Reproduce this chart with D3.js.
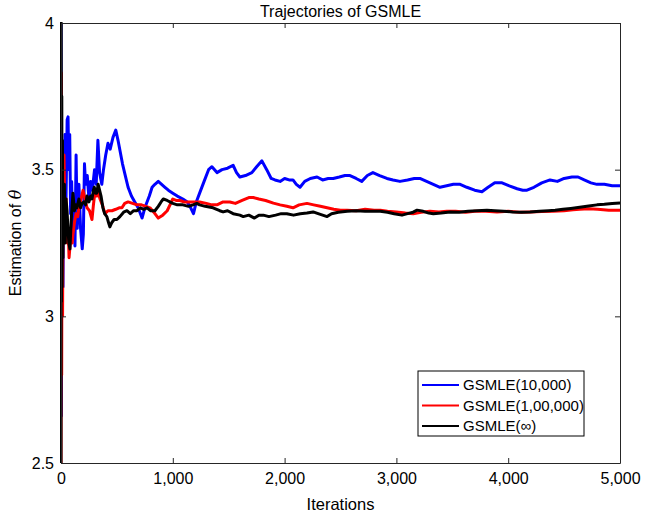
<!DOCTYPE html>
<html>
<head>
<meta charset="utf-8">
<script src="https://cdn.jsdelivr.net/npm/d3@7"></script>
<style>
  html, body { margin: 0; padding: 0; background: #fff; }
  svg { display: block; font-family: "Liberation Sans", Arial, sans-serif; }
</style>
</head>
<body>
<svg id="chart" width="656" height="517"></svg>
<script>
// ---------- data ----------
const title = "Trajectories of GSMLE";
const xLabel = "Iterations";
const seriesNames = ["GSMLE(10,000)", "GSMLE(1,00,000)", "GSMLE(\u221E)"];
const seriesColors = ["#0000ff", "#ff0000", "#000000"];
const xTicks = [0, 1000, 2000, 3000, 4000, 5000];
const yTicks = [2.5, 3, 3.5, 4];

const gsmle10k = [[0,4.0],[3,2.66],[6,3.6],[9,3.05],[13,3.45],[18,3.1],[24,3.55],[30,3.3],[36,3.62],[45,3.4],[55,3.67],[63,3.68],[70,3.5],[78,3.62],[86,3.35],[95,3.46],[105,3.3],[115,3.35],[125,3.24],[135,3.55],[145,3.3],[160,3.45],[175,3.3],[190,3.23],[200,3.28],[210,3.52],[220,3.45],[235,3.48],[250,3.40],[265,3.46],[280,3.43],[300,3.5],[315,3.45],[330,3.60],[345,3.49],[365,3.45],[380,3.50],[400,3.55],[420,3.59],[440,3.57],[465,3.61],[490,3.635],[510,3.6],[530,3.56],[550,3.52],[575,3.48],[600,3.44],[630,3.41],[660,3.39],[690,3.37],[725,3.335],[750,3.37],[790,3.41],[815,3.44],[840,3.45],[870,3.46],[900,3.45],[930,3.44],[960,3.43],[1000,3.42],[1040,3.41],[1090,3.40],[1130,3.39],[1160,3.37],[1185,3.35],[1210,3.39],[1240,3.42],[1280,3.46],[1320,3.50],[1350,3.51],[1395,3.49],[1440,3.50],[1490,3.505],[1540,3.515],[1570,3.49],[1600,3.475],[1650,3.48],[1707,3.49],[1750,3.51],[1797,3.53],[1840,3.50],[1880,3.47],[1914,3.465],[1960,3.46],[2000,3.47],[2040,3.465],[2075,3.465],[2105,3.45],[2138,3.44],[2180,3.46],[2230,3.47],[2290,3.475],[2340,3.465],[2390,3.47],[2435,3.47],[2490,3.475],[2540,3.48],[2585,3.48],[2640,3.47],[2690,3.46],[2740,3.48],[2790,3.49],[2850,3.48],[2915,3.47],[2970,3.465],[3032,3.46],[3100,3.465],[3160,3.47],[3210,3.47],[3270,3.46],[3330,3.45],[3390,3.44],[3450,3.445],[3510,3.45],[3570,3.45],[3630,3.44],[3700,3.43],[3765,3.425],[3820,3.44],[3880,3.455],[3945,3.455],[4010,3.445],[4080,3.435],[4130,3.43],[4168,3.43],[4230,3.44],[4300,3.455],[4374,3.465],[4440,3.46],[4500,3.47],[4570,3.475],[4625,3.475],[4680,3.465],[4740,3.455],[4794,3.45],[4860,3.45],[4930,3.445],[5000,3.445]];

const gsmle100k = [[0,2.5],[3,3.83],[6,2.8],[10,3.55],[14,3.0],[20,3.5],[27,3.55],[35,3.3],[45,3.4],[55,3.25],[65,3.3],[72,3.20],[85,3.26],[100,3.25],[107,3.28],[120,3.32],[135,3.35],[150,3.34],[160,3.37],[180,3.40],[197,3.43],[215,3.40],[233,3.37],[255,3.36],[277,3.33],[290,3.38],[304,3.425],[320,3.41],[335,3.42],[349,3.40],[370,3.38],[393,3.35],[420,3.36],[456,3.36],[490,3.365],[520,3.37],[545,3.37],[570,3.385],[600,3.39],[640,3.385],[680,3.38],[720,3.38],[760,3.375],[796,3.37],[830,3.355],[870,3.335],[910,3.345],[950,3.36],[975,3.38],[1000,3.40],[1030,3.395],[1064,3.395],[1100,3.39],[1150,3.39],[1180,3.39],[1240,3.39],[1300,3.385],[1350,3.38],[1395,3.38],[1450,3.39],[1510,3.39],[1560,3.385],[1620,3.395],[1680,3.405],[1720,3.405],[1770,3.40],[1830,3.395],[1900,3.386],[1960,3.38],[2020,3.375],[2075,3.37],[2130,3.38],[2200,3.385],[2260,3.38],[2320,3.375],[2380,3.37],[2440,3.365],[2500,3.362],[2560,3.362],[2640,3.36],[2720,3.365],[2800,3.362],[2855,3.362],[2920,3.358],[3000,3.356],[3080,3.352],[3150,3.35],[3220,3.355],[3300,3.358],[3380,3.356],[3450,3.358],[3530,3.358],[3620,3.355],[3700,3.358],[3800,3.358],[3900,3.356],[4000,3.358],[4100,3.355],[4200,3.356],[4300,3.357],[4400,3.358],[4500,3.36],[4580,3.363],[4640,3.365],[4720,3.367],[4800,3.365],[4900,3.362],[5000,3.362]];

const gsmleInf = [[0,2.5],[2,4.0],[4,3.05],[7,3.75],[10,3.1],[13,3.6],[17,3.2],[20,3.43],[25,3.3],[30,3.45],[38,3.25],[45,3.4],[54,3.36],[62,3.3],[70,3.25],[80,3.23],[88,3.30],[95,3.35],[107,3.42],[120,3.36],[133,3.38],[143,3.37],[160,3.40],[175,3.37],[188,3.385],[205,3.39],[220,3.38],[233,3.41],[250,3.39],[265,3.41],[277,3.40],[290,3.43],[298,3.44],[310,3.42],[320,3.42],[332,3.45],[345,3.43],[358,3.41],[375,3.37],[390,3.35],[410,3.34],[425,3.32],[437,3.305],[455,3.32],[475,3.33],[500,3.33],[527,3.34],[560,3.355],[590,3.36],[620,3.35],[650,3.36],[680,3.36],[710,3.37],[740,3.365],[770,3.37],[800,3.36],[840,3.36],[870,3.375],[895,3.39],[915,3.40],[950,3.395],[1000,3.385],[1040,3.38],[1090,3.38],[1140,3.375],[1180,3.38],[1215,3.385],[1240,3.38],[1290,3.375],[1360,3.37],[1420,3.36],[1450,3.356],[1490,3.36],[1540,3.35],[1600,3.345],[1630,3.34],[1680,3.345],[1730,3.335],[1770,3.345],[1810,3.345],[1860,3.34],[1920,3.345],[1970,3.35],[2020,3.35],[2080,3.345],[2140,3.35],[2200,3.352],[2255,3.356],[2300,3.35],[2340,3.345],[2380,3.34],[2420,3.35],[2480,3.355],[2560,3.358],[2640,3.36],[2720,3.358],[2800,3.358],[2855,3.358],[2920,3.355],[2980,3.35],[3050,3.345],[3100,3.35],[3150,3.355],[3185,3.362],[3240,3.358],[3290,3.352],[3330,3.35],[3400,3.352],[3480,3.356],[3560,3.355],[3640,3.358],[3720,3.36],[3810,3.362],[3880,3.36],[3960,3.358],[4040,3.356],[4120,3.355],[4195,3.356],[4280,3.358],[4360,3.36],[4420,3.362],[4490,3.365],[4560,3.368],[4640,3.372],[4720,3.376],[4794,3.38],[4860,3.382],[4930,3.385],[5000,3.386]];

const allSeries = [gsmle10k, gsmle100k, gsmleInf];

// ---------- layout ----------
const margin = { left: 61, right: 36, top: 23, bottom: 54 };
const W = 656, H = 517;
const pw = W - margin.left - margin.right;
const ph = H - margin.top - margin.bottom;
const axisColor = "#262626";

const svg = d3.select("#chart");
const x = d3.scaleLinear().domain([0, 5000]).range([0, pw]);
const y = d3.scaleLinear().domain([2.5, 4]).range([ph, 0]);

const g = svg.append("g").attr("transform", `translate(${margin.left},${margin.top})`);

g.append("defs").append("clipPath").attr("id", "clip")
  .append("rect").attr("x", -1).attr("y", -1).attr("width", pw + 2).attr("height", ph + 2);

// lines
const line = d3.line().x(d => x(d[0])).y(d => y(d[1]));
const lines = g.append("g").attr("clip-path", "url(#clip)");
allSeries.forEach((s, i) => {
  lines.append("path").datum(s)
    .attr("fill", "none")
    .attr("stroke", seriesColors[i])
    .attr("stroke-width", 3)
    .attr("stroke-linejoin", "round")
    .attr("d", line);
});

// axes
const fmt = d3.format(",");
const axBottom = g.append("g").attr("transform", `translate(0,${ph})`)
  .call(d3.axisBottom(x).tickValues(xTicks).tickFormat(fmt).tickSizeInner(-5).tickSizeOuter(0).tickPadding(10));
const axTop = g.append("g")
  .call(d3.axisTop(x).tickValues(xTicks).tickFormat("").tickSizeInner(-5).tickSizeOuter(0));
const axLeft = g.append("g")
  .call(d3.axisLeft(y).tickValues(yTicks).tickFormat(d3.format("")).tickSizeInner(-5).tickSizeOuter(0).tickPadding(7));
const axRight = g.append("g").attr("transform", `translate(${pw},0)`)
  .call(d3.axisRight(y).tickValues(yTicks).tickFormat("").tickSizeInner(-5).tickSizeOuter(0));

[axBottom, axTop, axLeft, axRight].forEach(a => {
  a.select(".domain").attr("stroke", axisColor).attr("stroke-width", 1);
  a.selectAll(".tick line").attr("stroke", axisColor);
  a.selectAll("text").attr("fill", "#000").style("font-size", "16px")
    .style("font-family", "'Liberation Sans', Arial, sans-serif");
});

// title & labels
svg.append("text").attr("x", margin.left + pw / 2).attr("y", 17)
  .attr("text-anchor", "middle").style("font-size", "16px").text(title);

svg.append("text").attr("x", margin.left + pw / 2).attr("y", 510)
  .attr("text-anchor", "middle").style("font-size", "16.5px").text(xLabel);

const yl = svg.append("text")
  .attr("transform", `translate(21,${margin.top + ph / 2}) rotate(-90)`)
  .attr("text-anchor", "middle").style("font-size", "16px");
yl.append("tspan").text("Estimation of ");
yl.append("tspan").style("font-style", "italic").style("font-family", "'DejaVu Serif', serif").text("\u03B8");

// legend
const lg = svg.append("g").attr("transform", "translate(418,371)");
lg.append("rect").attr("width", 166).attr("height", 65)
  .attr("fill", "#fff").attr("stroke", "#000").attr("stroke-width", 1);
seriesNames.forEach((name, i) => {
  const cy = 14 + i * 20.5;
  lg.append("line").attr("x1", 4).attr("x2", 41).attr("y1", cy).attr("y2", cy)
    .attr("stroke", seriesColors[i]).attr("stroke-width", 2.2);
  lg.append("text").attr("x", 45).attr("y", cy).attr("dy", "0.35em")
    .style("font-size", "15px").text(name);
});
</script>
</body>
</html>
